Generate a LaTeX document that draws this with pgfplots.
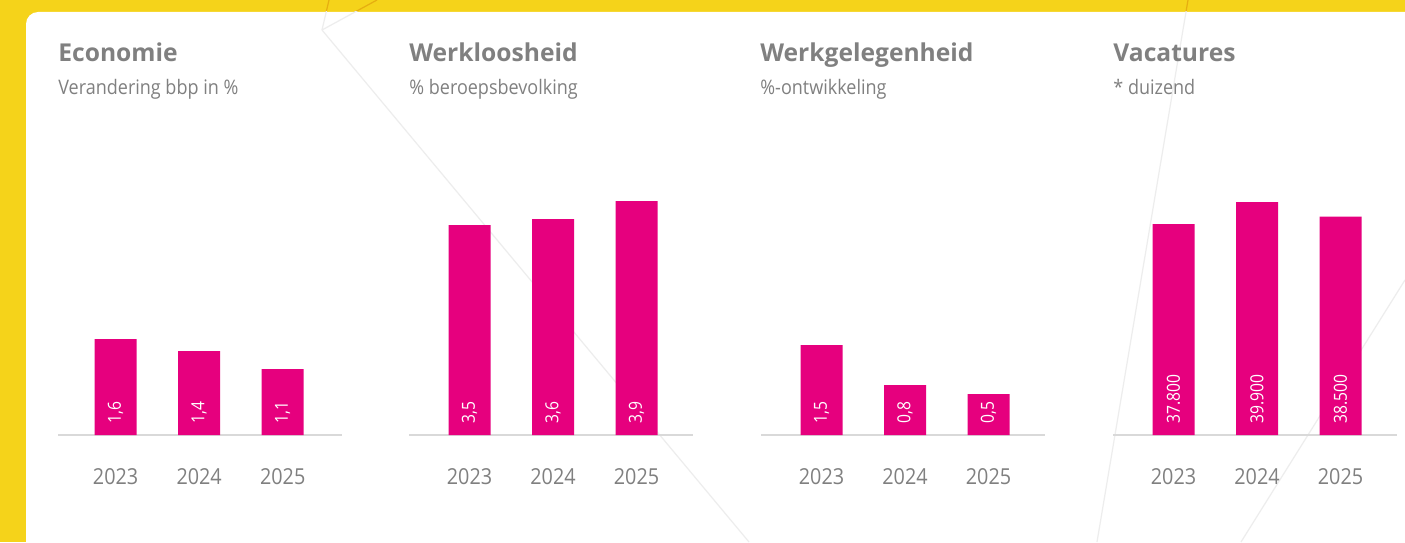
\documentclass[border=0pt]{standalone}
\usepackage{pgfplots}
\pgfplotsset{compat=1.18}
\usepackage{pgfplotstable}
\usepackage{fontspec}
\setmainfont{Open Sans}
\newfontfamily\segoe{Open Sans}[FakeStretch=0.9]
\newfontfamily\segoel{Open Sans}[FakeStretch=0.87]
\definecolor{ing}{HTML}{E6007E}
\definecolor{bgyellow}{HTML}{F5D31A}
\definecolor{txtgray}{HTML}{808080}
\definecolor{basegray}{HTML}{D9D9D9}
\definecolor{deco}{HTML}{EDEDED}
\definecolor{decoy}{HTML}{E6AE10}

\pgfplotstableread{
x y label
0 1.6 1,6
1 1.4 1,4
2 1.1 1,1
}\tabEconomie
\pgfplotstableread{
x y label
0 3.5 3,5
1 3.6 3,6
2 3.9 3,9
}\tabWerkloosheid
\pgfplotstableread{
x y label
0 1.5 1,5
1 0.83 0,8
2 0.68 0,5
}\tabWerkgelegenheid
\pgfplotstableread{
x y label
0 37800 37.800
1 39900 39.900
2 38500 38.500
}\tabVacatures

\pgfplotsset{
  panel/.style={
    scale only axis,
    width=142pt, height=120pt,
    anchor=south west,
    xmin=-0.725, xmax=2.676,
    clip=false,
    hide y axis,
    axis x line*=bottom,
    x axis line style={draw=basegray, line width=0.8pt},
    xtick={0,1,2},
    xticklabels={2023,2024,2025},
    major tick length=0pt,
    xtick style={draw=none},
    xticklabel style={anchor=base, yshift=-24.5pt, text=txtgray,
      font=\segoe\fontsize{11pt}{13pt}\selectfont},
  },
  barplot/.style={ybar, bar width=21pt, fill=ing, draw=none},
  valplot/.style={draw=none, mark=none, nodes near coords,
    point meta=explicit symbolic,
    nodes near coords style={rotate=90, anchor=west, inner xsep=5.5pt,
      inner ysep=0pt, text=white,
      font=\segoel\fontsize{9pt}{11pt}\selectfont}},
}

\begin{document}
\begin{tikzpicture}
\useasboundingbox (0,0) rectangle (702.5pt,271pt);
\clip (0,0) rectangle (702.5pt,271pt);
\fill[bgyellow] (0,0) rectangle (702.5pt,271pt);
% decorative lines on yellow
\draw[decoy, line width=0.6pt] (161pt,256pt) -- (164.5pt,271pt);
\draw[decoy, line width=0.6pt] (161pt,256pt) -- (188.5pt,271pt);
\draw[decoy, line width=0.6pt] (594pt,271pt) -- (548.5pt,0pt);
% white panel
\fill[white, rounded corners=6pt] (13pt,-20pt) rectangle (730pt,265pt);
% decorative lines on white
\begin{scope}
\clip (13pt,0pt) rectangle (702.5pt,265pt);
\draw[deco, line width=0.6pt] (161pt,256pt) -- (374.5pt,0pt);
\draw[deco, line width=0.6pt] (161pt,256pt) -- (164.5pt,271pt);
\draw[deco, line width=0.6pt] (161pt,256pt) -- (188.5pt,271pt);
\draw[deco, line width=0.6pt] (594pt,271pt) -- (548.5pt,0pt);
\draw[deco, line width=0.6pt] (702.5pt,131pt) -- (620.5pt,0pt);
\end{scope}

% titles
\begin{scope}[every node/.style={inner sep=0pt, anchor=base west}]
\foreach \xx/\tt/\st in {29pt/Economie/Verandering bbp in \%,
                         204.5pt/Werkloosheid/\% beroepsbevolking,
                         380pt/Werkgelegenheid/\%-ontwikkeling,
                         556.5pt/Vacatures/* duizend}{
  \node[text=txtgray, font=\fontsize{12.3pt}{15pt}\selectfont\bfseries] at (\xx,240pt) {\tt};
  \node[text=txtgray, font=\segoe\fontsize{10pt}{12pt}\selectfont] at (\xx,223.5pt) {\st};
}
\end{scope}

% Economie
\begin{axis}[panel, at={(29pt,53.5pt)}, ymin=0, ymax=4, xmin=-0.69, xmax=2.71]
\addplot[barplot] table[x=x, y=y] {\tabEconomie};
\addplot[valplot] table[x=x, y expr=0, meta=label] {\tabEconomie};
\end{axis}

% Werkloosheid
\begin{axis}[panel, at={(204.5pt,53.5pt)}, ymin=0, ymax=4]
\addplot[barplot] table[x=x, y=y] {\tabWerkloosheid};
\addplot[valplot] table[x=x, y expr=0, meta=label] {\tabWerkloosheid};
\end{axis}

% Werkgelegenheid
\begin{axis}[panel, at={(380.5pt,53.5pt)}, ymin=0, ymax=4]
\addplot[barplot] table[x=x, y=y] {\tabWerkgelegenheid};
\addplot[valplot] table[x=x, y expr=0, meta=label] {\tabWerkgelegenheid};
\end{axis}

% Vacatures
\begin{axis}[panel, at={(556.5pt,53.5pt)}, ymin=17670, ymax=40570]
\addplot[barplot] table[x=x, y=y] {\tabVacatures};
\addplot[valplot] table[x=x, y expr=17670, meta=label] {\tabVacatures};
\end{axis}
\end{tikzpicture}
\end{document}
